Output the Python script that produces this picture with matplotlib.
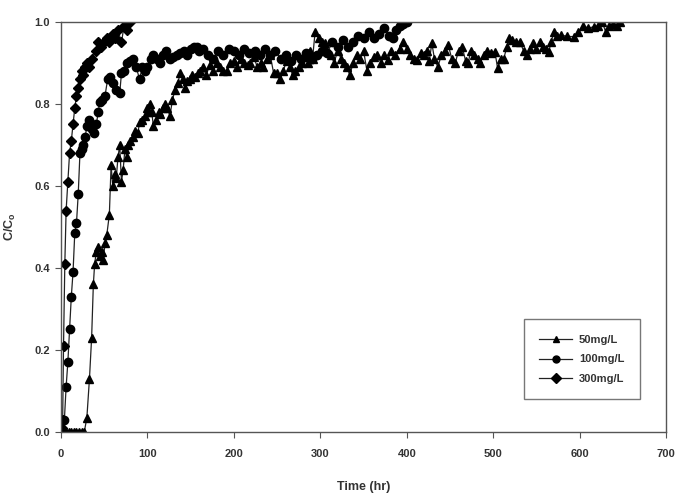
import matplotlib
matplotlib.use("Agg")
import matplotlib.pyplot as plt

plt.rcParams['font.family'] = ['Liberation Sans', 'DejaVu Sans']
plt.rcParams['mathtext.fontset'] = 'custom'
plt.rcParams['mathtext.rm'] = 'Liberation Sans:bold'
plt.rcParams['mathtext.bf'] = 'Liberation Sans:bold'

# --- data ---
t_50 = [0, 3, 6, 9, 12, 15, 18, 21, 24, 27, 30, 33, 35.5, 37.5, 39, 41, 43, 45, 47, 49,
        51, 53, 56, 58, 60, 62, 64, 66, 68, 70, 72, 74, 76, 78, 80, 83, 86, 89, 91, 94,
        97, 99, 101, 103, 105, 107, 110, 113, 115, 118, 120, 123, 126, 129, 132, 135, 138, 141, 143, 146,
        149, 152, 155, 158, 161, 164, 168, 172, 176, 180, 184, 188, 192, 196, 200, 204, 208, 212, 216, 219,
        223, 227, 231, 234, 238, 242, 246, 250, 253, 257, 261, 265, 268, 271, 275, 279, 283, 286, 288, 291,
        294, 298, 302, 305, 308, 312, 316, 320, 324, 327, 331, 334, 338, 342, 346, 350, 354, 358, 362, 366,
        370, 374, 378, 382, 386, 392, 396, 400, 404, 408, 412, 416, 420, 423, 426, 429, 432, 436, 440, 444,
        448, 452, 456, 460, 464, 468, 471, 474, 478, 482, 485, 489, 493, 497, 502, 505, 509, 512, 516, 518,
        522, 526, 531, 535, 539, 542, 546, 550, 554, 558, 561, 564, 567, 570, 574, 578, 585, 593, 598, 604,
        610, 616, 621, 626, 630, 634, 639, 643, 647]
c_50 = [0, 0, 0, 0, 0, 0, 0, 0, 0, 0, 0.035, 0.13, 0.23, 0.36, 0.41, 0.44, 0.45, 0.43, 0.44, 0.42,
        0.46, 0.48, 0.53, 0.65, 0.60, 0.63, 0.62, 0.67, 0.70, 0.61, 0.64, 0.69, 0.67, 0.70, 0.71, 0.72, 0.735, 0.73, 0.755, 0.76,
        0.77, 0.79, 0.78, 0.80, 0.78, 0.745, 0.76, 0.78, 0.775, 0.79, 0.80, 0.79, 0.77, 0.81, 0.835, 0.85, 0.875, 0.86, 0.84, 0.855,
        0.86, 0.87, 0.865, 0.875, 0.88, 0.89, 0.87, 0.895, 0.88, 0.90, 0.89, 0.88, 0.88, 0.90, 0.905, 0.89, 0.91, 0.90, 0.895, 0.90,
        0.915, 0.89, 0.90, 0.89, 0.91, 0.92, 0.875, 0.875, 0.86, 0.88, 0.905, 0.89, 0.87, 0.88, 0.89, 0.90, 0.915, 0.90, 0.93, 0.91,
        0.976, 0.96, 0.95, 0.948, 0.93, 0.92, 0.90, 0.93, 0.91, 0.90, 0.89, 0.87, 0.90, 0.92, 0.91, 0.93, 0.88, 0.90, 0.915, 0.92,
        0.90, 0.92, 0.907, 0.93, 0.92, 0.935, 0.95, 0.935, 0.92, 0.91, 0.907, 0.925, 0.92, 0.93, 0.905, 0.948, 0.91, 0.89, 0.92, 0.93,
        0.944, 0.91, 0.90, 0.93, 0.94, 0.905, 0.90, 0.93, 0.92, 0.91, 0.90, 0.92, 0.93, 0.925, 0.927, 0.887, 0.91, 0.91, 0.94, 0.96,
        0.955, 0.95, 0.95, 0.93, 0.92, 0.935, 0.948, 0.935, 0.95, 0.94, 0.935, 0.927, 0.95, 0.976, 0.965, 0.968, 0.965, 0.964, 0.975, 0.99,
        0.985, 0.988, 0.99, 1.0, 0.976, 0.99, 0.995, 0.99, 1.0]

t_100 = [0, 2, 4, 6, 8, 10, 12, 14, 16, 18, 20, 22, 24, 26, 28, 30, 33, 36, 38, 41,
         43, 45, 48, 51, 54, 57, 60, 64, 68, 70, 73, 76, 80, 83, 87, 91, 94, 97, 100, 104,
         107, 111, 115, 118, 122, 126, 130, 134, 138, 142, 146, 150, 154, 157, 160, 164, 170, 176, 182, 188,
         194, 200, 206, 212, 218, 224, 230, 236, 242, 248, 254, 260, 266, 272, 278, 284, 290, 296, 302, 308,
         314, 320, 326, 332, 338, 344, 350, 356, 362, 368, 374, 380, 384, 388, 392, 396, 400]
c_100 = [0, 0, 0.03, 0.11, 0.17, 0.25, 0.33, 0.39, 0.485, 0.51, 0.58, 0.68, 0.69, 0.70, 0.72, 0.745, 0.76, 0.74, 0.73, 0.75,
         0.78, 0.805, 0.81, 0.82, 0.86, 0.865, 0.85, 0.835, 0.826, 0.875, 0.88, 0.90, 0.905, 0.91, 0.89, 0.86, 0.89, 0.88, 0.89, 0.91,
         0.92, 0.91, 0.90, 0.92, 0.93, 0.91, 0.915, 0.92, 0.925, 0.93, 0.92, 0.935, 0.94, 0.94, 0.93, 0.935, 0.92, 0.91, 0.93, 0.92,
         0.935, 0.93, 0.92, 0.935, 0.925, 0.93, 0.92, 0.935, 0.92, 0.93, 0.91, 0.92, 0.905, 0.92, 0.91, 0.925, 0.91, 0.92, 0.93, 0.925,
         0.95, 0.94, 0.955, 0.94, 0.95, 0.965, 0.96, 0.975, 0.96, 0.97, 0.985, 0.965, 0.96, 0.98, 0.99, 0.995, 1.0]

t_300 = [0, 1, 2, 3, 4.5, 6, 8, 10, 12, 14, 16, 18, 20, 22, 24, 26, 28, 30, 33, 36,
         40, 43, 46, 50, 53, 56, 60, 63, 66, 70, 73, 76, 80]
c_300 = [0, 0.01, 0.03, 0.21, 0.41, 0.54, 0.61, 0.68, 0.71, 0.75, 0.79, 0.82, 0.84, 0.86, 0.88, 0.87, 0.89, 0.90, 0.89, 0.91,
         0.93, 0.95, 0.94, 0.95, 0.96, 0.95, 0.97, 0.96, 0.98, 0.95, 0.99, 0.98, 1.0]

fig = plt.figure(figsize=(6.77, 4.98), dpi=100)
ax = fig.add_axes([0.090, 0.1325, 0.894, 0.8235])

line_kw = dict(color='#222222', linewidth=0.9, markerfacecolor='black',
               markeredgecolor='black', markersize=6)
ax.plot(t_50, c_50, marker='^', label='50mg/L', **line_kw)
ax.plot(t_100, c_100, marker='o', label='100mg/L', **line_kw)
ax.plot(t_300, c_300, marker='D', label='300mg/L', **dict(line_kw, markersize=5.5))

ax.set_xlim(0, 700)
ax.set_ylim(0, 1.0)
ax.set_xticks(range(0, 701, 100))
ax.set_yticks([0.0, 0.2, 0.4, 0.6, 0.8, 1.0])
ax.set_yticklabels(['0.0', '0.2', '0.4', '0.6', '0.8', '1.0'])
ax.tick_params(direction='out', length=4, width=0.8, labelsize=8, color='#555555', pad=4)
ax.tick_params(axis='x', pad=8)
for lab in ax.get_xticklabels() + ax.get_yticklabels():
    lab.set_fontweight('bold')
    lab.set_color('#333333')
for sp in ax.spines.values():
    sp.set_color('#555555')
    sp.set_linewidth(1.0)

ax.set_xlabel('Time (hr)', fontsize=9, fontweight='bold', color='#333333', labelpad=16)
ax.set_ylabel(r'C/C$_\mathrm{o}$', fontsize=9, fontweight='bold', color='#333333', labelpad=12)

leg = ax.legend(loc='lower right', bbox_to_anchor=(0.966, 0.066), frameon=True,
                fancybox=False, edgecolor='#555555', handlelength=3, borderpad=1.4,
                labelspacing=0.85, handletextpad=0.6, prop={'weight': 'bold', 'size': 8})
leg.get_frame().set_linewidth(1.0)
for h in leg.legend_handles:
    h.set_markersize(5)
for txt in leg.get_texts():
    txt.set_color('#333333')

fig.savefig('out.png', dpi=100)
